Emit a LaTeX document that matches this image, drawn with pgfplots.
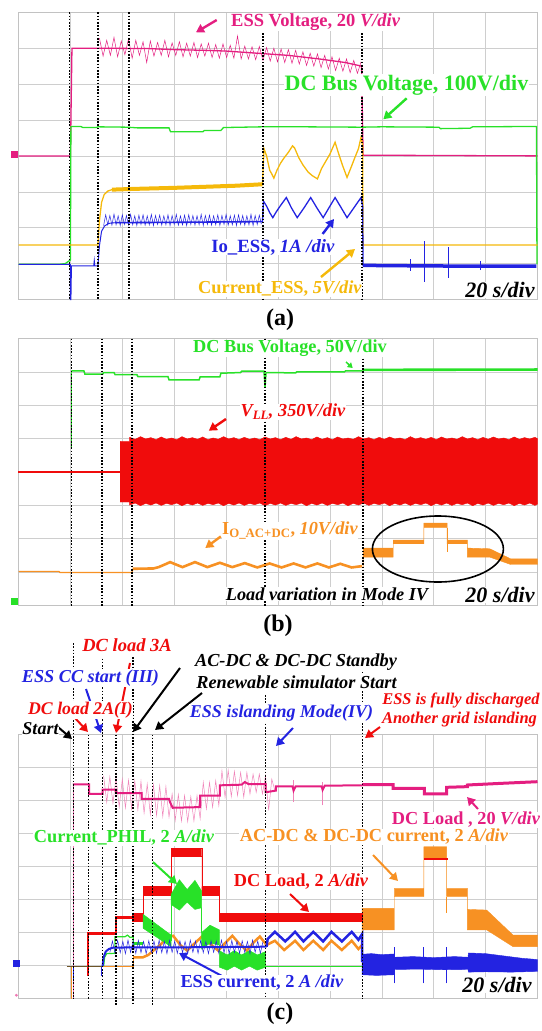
\documentclass[border=0pt]{standalone}
\usepackage{pgfplots}
\pgfplotsset{compat=1.18}
\usetikzlibrary{arrows.meta}
\usepackage{fontspec}
\setmainfont{Liberation Serif}
\definecolor{cmag}{RGB}{228,30,128}
\definecolor{cgreen}{RGB}{40,225,40}
\definecolor{cyel}{RGB}{245,185,10}
\definecolor{cblue}{RGB}{35,35,225}
\definecolor{trred}{RGB}{240,12,12}
\definecolor{corange}{RGB}{247,145,35}
\definecolor{cgrid}{RGB}{206,206,206}
\definecolor{colive}{RGB}{110,85,40}
\pgfplotsset{scopeax/.style={scale only axis, width=519pt, xmin=0, xmax=10, ymin=0, ymax=8,
  xtick={0,1,...,10}, ytick={0,1,...,8}, xticklabels={}, yticklabels={}, major tick length=0pt,
  grid=major, major grid style={cgrid, line width=0.6pt}, axis line style={cgrid!85!gray, line width=0.8pt},
  clip=false, anchor=north west}}
\tikzset{mk/.style={black, line width=1.6pt, dash pattern=on 1.6pt off 1.6pt},
  lbl/.style={font=\fontsize{18.3}{20}\selectfont\bfseries, inner sep=0.5pt, fill=white},
  big/.style={font=\fontsize{22}{24}\selectfont\bfseries\itshape, inner sep=0.5pt, fill=white},
  arr/.style={-{Triangle[length=8pt,width=9pt]}, line width=2.4pt}}
\begin{document}
\begin{tikzpicture}
\useasboundingbox (0pt,0pt) rectangle (541pt,-1031pt);
% ================= (a)
\begin{axis}[scopeax, at={(18.5pt,-12.3pt)}, height=287.2pt]
\addplot[color=cmag, line width=0.5pt] coordinates {(1.56,7.28)(1.63,6.78)(1.70,7.22)(1.77,6.80)(1.84,7.30)(1.91,6.76)(1.98,7.20)(2.05,6.82)(2.12,7.26)(2.19,6.72)(2.26,7.22)(2.33,6.80)(2.40,7.18)(2.47,6.60)(2.54,7.20)(2.61,6.78)(2.68,7.16)(2.75,6.80)(2.82,7.22)(2.89,6.76)(2.96,7.15)(3.03,6.80)(3.10,7.18)(3.17,6.76)(3.24,7.14)(3.31,6.78)(3.38,7.16)(3.45,6.74)(3.52,7.12)(3.59,6.78)(3.66,7.14)(3.73,6.74)(3.80,7.10)(3.87,6.72)(3.94,7.12)(4.01,6.74)(4.08,7.08)(4.15,6.72)(4.22,7.34)(4.29,6.70)(4.36,7.06)(4.43,6.70)(4.50,7.04)(4.57,6.68)(4.64,7.05)(4.71,6.66)(4.78,7.02)(4.85,6.64)(4.92,7.00)(4.99,6.62)(5.06,6.98)(5.13,6.60)(5.20,6.96)(5.27,6.58)(5.34,6.94)(5.41,6.56)(5.48,6.90)(5.55,6.52)(5.62,6.86)(5.69,6.50)(5.76,6.84)(5.83,6.46)(5.90,6.80)(5.97,6.42)(6.04,6.76)(6.11,6.38)(6.18,6.72)(6.25,6.36)(6.32,6.70)(6.39,6.32)(6.46,6.66)(6.53,6.30)(6.60,6.62)};
\addplot[color=cmag, line width=1.3pt] coordinates {(0,4.0)(1.0,4.0)(1.03,7.0)(1.56,7.0)(2.5,6.99)(3.0,6.96)(3.6,6.94)(4.0,6.92)(4.7,6.85)(5.2,6.80)(5.8,6.70)(6.3,6.60)(6.61,6.50)(6.64,4.02)(10,4.0)};
\addplot[color=cgreen, line width=1.3pt] coordinates {(0,0.98)(0.78,0.98)(0.9,1.0)(0.96,1.06)(1.0,1.1)(1.01,4.82)(1.2,4.82)(1.24,4.79)(1.5,4.79)(1.53,4.81)(2.1,4.80)(2.3,4.78)(2.9,4.78)(2.93,4.67)(3.55,4.67)(3.58,4.71)(3.9,4.71)(3.95,4.79)(4.7,4.81)(5.5,4.81)(6.6,4.80)(7.0,4.81)(8.1,4.80)(8.13,4.76)(8.7,4.77)(8.75,4.81)(9.98,4.82)(9.99,0.98)};
\addplot[color=cyel, line width=1.3pt] coordinates {(0,1.52)(1.53,1.52)(1.56,2.2)(1.6,2.7)(1.65,2.92)(1.72,3.02)(1.8,3.06)};
\addplot[color=cyel, line width=4pt] coordinates {(1.8,3.06)(2.2,3.08)(3.0,3.11)(3.6,3.14)(4.2,3.17)(4.7,3.21)};
\addplot[color=cyel, line width=1.3pt] coordinates {(4.70,3.2)(4.73,4.2)(4.78,4.0)(4.84,3.6)(4.88,3.5)(4.92,3.38)(4.98,3.6)(5.05,3.8)(5.12,3.95)(5.2,4.1)(5.28,4.28)(5.32,4.22)(5.4,3.95)(5.48,3.75)(5.58,3.55)(5.66,3.45)(5.76,3.36)(5.84,3.65)(5.92,3.85)(6.0,4.05)(6.1,4.38)(6.16,4.1)(6.24,3.75)(6.33,3.40)(6.4,3.65)(6.48,3.95)(6.55,4.2)(6.60,4.52)(6.63,4.3)(6.64,1.52)(10,1.52)};
\addplot[color=cblue, line width=1pt] coordinates {(0,0.98)(1.0,0.98)(1.0,0.0)(1.01,0.0)(1.02,0.94)(1.45,0.94)(1.46,1.08)(1.47,0.94)(1.53,0.94)(1.56,1.5)(1.6,1.9)(1.66,2.05)(1.74,2.12)(1.85,2.14)};
\addplot[color=cblue, line width=0.5pt] coordinates {(1.64,2.06)(1.68,2.36)(1.72,2.08)(1.76,2.34)(1.80,2.07)(1.84,2.38)(1.88,2.08)(1.92,2.33)(1.96,2.06)(2.00,2.36)(2.04,2.09)(2.08,2.34)(2.12,2.07)(2.16,2.37)(2.20,2.08)(2.24,2.33)(2.28,2.06)(2.32,2.35)(2.36,2.09)(2.40,2.36)(2.44,2.07)(2.48,2.33)(2.52,2.08)(2.56,2.37)(2.60,2.06)(2.64,2.34)(2.68,2.09)(2.72,2.35)(2.76,2.07)(2.80,2.33)(2.84,2.08)(2.88,2.36)(2.92,2.06)(2.96,2.34)(3.00,2.09)(3.04,2.37)(3.08,2.07)(3.12,2.33)(3.16,2.08)(3.20,2.35)(3.24,2.06)(3.28,2.36)(3.32,2.09)(3.36,2.34)(3.40,2.07)(3.44,2.33)(3.48,2.08)(3.52,2.37)(3.56,2.06)(3.60,2.34)(3.64,2.09)(3.68,2.35)(3.72,2.07)(3.76,2.33)(3.80,2.08)(3.84,2.36)(3.88,2.06)(3.92,2.34)(3.96,2.09)(4.00,2.37)(4.04,2.07)(4.08,2.33)(4.12,2.08)(4.16,2.35)(4.20,2.06)(4.24,2.36)(4.28,2.09)(4.32,2.34)(4.36,2.07)(4.40,2.33)(4.44,2.08)(4.48,2.37)(4.52,2.06)(4.56,2.34)(4.60,2.09)(4.64,2.35)(4.68,2.10)};
\addplot[color=cblue, line width=1.6pt] coordinates {(1.85,2.14)(3.0,2.15)(4.7,2.17)};
\addplot[color=cblue, line width=1.3pt] coordinates {(4.70,2.16)(4.72,2.74)(4.78,2.6)(4.84,2.42)(4.90,2.28)(4.97,2.45)(5.05,2.62)(5.16,2.84)(5.26,2.55)(5.37,2.28)(5.5,2.55)(5.63,2.84)(5.75,2.55)(5.87,2.28)(5.98,2.55)(6.10,2.84)(6.22,2.55)(6.33,2.28)(6.46,2.55)(6.60,2.84)(6.63,2.6)(6.64,0.93)};
\addplot[color=cblue, line width=3.5pt] coordinates {(6.64,0.95)(7.5,0.94)(8.5,0.93)(9.98,0.93)};
\addplot[color=cblue, line width=0.6pt] coordinates {(7.82,0.5)(7.82,1.62)};
\addplot[color=cblue, line width=0.6pt] coordinates {(8.29,0.6)(8.29,1.45)};
\addplot[color=cblue, line width=0.6pt] coordinates {(7.55,0.8)(7.55,1.12)};
\addplot[color=cblue, line width=0.6pt] coordinates {(8.9,0.82)(8.9,1.08)};
\addplot[only marks, mark=square*, mark size=3pt, color=cmag] coordinates {(-0.08,4.05)};
\addplot[mk] coordinates {(0.98,8)(0.98,0)};
\addplot[mk] coordinates {(1.53,8)(1.53,0)};
\addplot[mk] coordinates {(2.13,8)(2.13,0)};
\addplot[mk] coordinates {(4.71,7.6)(4.71,0)};
\addplot[mk] coordinates {(6.62,7.6)(6.62,0)};
\end{axis}
% ================= (b)
\begin{axis}[scopeax, at={(18.5pt,-338.5pt)}, height=267pt]
\addplot[color=cgreen, line width=0.5pt] coordinates {(1.02,4.74)(1.02,7.03)};
\addplot[color=cgreen, line width=1.5pt] coordinates {(1.02,7.03)(1.26,7.03)(1.28,6.93)(1.62,6.93)(1.64,6.98)(1.84,6.98)(1.86,6.92)(2.28,6.92)(2.30,6.86)(2.88,6.86)(2.90,6.76)(3.48,6.76)(3.50,6.85)(3.88,6.85)(3.90,6.96)(4.28,6.98)(4.30,7.02)(4.73,7.02)(4.75,6.55)(4.77,6.98)(5.34,6.97)(5.36,7.0)(6.28,7.0)(6.30,7.03)(6.63,7.03)};
\addplot[color=cgreen, line width=2.6pt] coordinates {(6.63,7.06)(10,7.07)};
\addplot[fill=trred, draw=trred, line width=0.4pt] coordinates {(0,3.985)(0,4.035)(1.96,4.035)(1.96,3.985)} -- cycle;
\addplot[fill=trred, draw=trred, line width=0.4pt] coordinates {(1.96,3.10)(1.96,4.92)(2.14,4.92)(2.14,5.04)(2.25,4.98)(2.35,5.06)(2.45,4.99)(2.55,5.03)(2.65,4.97)(2.75,5.05)(2.85,4.98)(2.95,5.02)(3.05,4.97)(3.15,5.06)(3.25,4.99)(3.35,5.03)(3.45,4.98)(3.55,5.05)(3.65,4.97)(3.75,5.02)(3.85,4.98)(3.95,5.06)(4.05,4.99)(4.15,5.03)(4.25,4.97)(4.35,5.04)(4.45,4.98)(4.55,5.02)(4.65,4.97)(4.75,5.05)(4.85,4.99)(4.95,5.03)(5.05,4.97)(5.15,5.04)(5.25,4.98)(5.35,5.06)(5.45,4.99)(5.55,5.02)(5.65,4.97)(5.75,5.05)(5.85,4.98)(5.95,5.03)(6.05,4.97)(6.15,5.05)(6.25,4.99)(6.35,5.02)(6.45,4.98)(6.55,5.06)(6.65,4.99)(6.75,5.03)(6.85,4.97)(6.95,5.04)(7.05,4.98)(7.15,5.05)(7.25,4.99)(7.35,5.02)(7.45,4.97)(7.55,5.06)(7.65,4.99)(7.75,5.03)(7.85,4.98)(7.95,5.04)(8.05,4.97)(8.15,5.05)(8.25,4.99)(8.35,5.02)(8.45,4.98)(8.55,5.06)(8.65,4.99)(8.75,5.03)(8.85,4.97)(8.95,5.04)(9.05,4.98)(9.15,5.05)(9.25,4.99)(9.35,5.02)(9.45,4.97)(9.55,5.05)(9.65,4.98)(9.75,5.03)(9.85,4.99)(9.95,5.04)(10,5.0)(10,3.04)(9.95,3.00)(9.85,3.07)(9.75,3.01)(9.65,3.06)(9.55,2.99)(9.45,3.07)(9.35,3.02)(9.25,3.06)(9.15,3.00)(9.05,3.07)(8.95,3.01)(8.85,3.06)(8.75,2.99)(8.65,3.07)(8.55,3.02)(8.45,3.06)(8.35,3.00)(8.25,3.07)(8.15,3.01)(8.05,3.06)(7.95,2.99)(7.85,3.07)(7.75,3.02)(7.65,3.06)(7.55,3.00)(7.45,3.07)(7.35,3.01)(7.25,3.06)(7.15,2.99)(7.05,3.07)(6.95,3.02)(6.85,3.06)(6.75,3.00)(6.65,3.07)(6.55,3.01)(6.45,3.06)(6.35,2.99)(6.25,3.07)(6.15,3.02)(6.05,3.06)(5.95,3.00)(5.85,3.07)(5.75,3.01)(5.65,3.06)(5.55,2.99)(5.45,3.07)(5.35,3.02)(5.25,3.06)(5.15,3.00)(5.05,3.07)(4.95,3.01)(4.85,3.06)(4.75,2.99)(4.65,3.07)(4.55,3.02)(4.45,3.06)(4.35,3.00)(4.25,3.07)(4.15,3.01)(4.05,3.06)(3.95,2.99)(3.85,3.07)(3.75,3.02)(3.65,3.06)(3.55,3.00)(3.45,3.07)(3.35,3.01)(3.25,3.06)(3.15,2.99)(3.05,3.07)(2.95,3.02)(2.85,3.06)(2.75,3.00)(2.65,3.07)(2.55,3.01)(2.45,3.06)(2.35,2.99)(2.25,3.07)(2.14,3.01)(2.14,3.10)} -- cycle;
\addplot[color=corange, line width=1.3pt] coordinates {(0,1.02)(0.78,1.02)(0.80,0.99)(2.19,0.99)(2.20,1.08)};
\addplot[color=corange, line width=2.6pt] coordinates {(2.20,1.10)(2.6,1.11)(2.7,1.15)(2.85,1.25)(2.92,1.30)(3.16,1.15)(3.40,1.30)(3.64,1.15)(3.88,1.28)(4.12,1.15)(4.36,1.27)(4.60,1.14)(4.84,1.26)(5.07,1.14)(5.30,1.26)(5.53,1.14)(5.76,1.26)(5.98,1.14)(6.20,1.25)(6.42,1.14)(6.62,1.18)};
\addplot[fill=corange, draw=corange, line width=0.4pt] coordinates {(6.64,1.16)(6.64,1.72)(7.22,1.72)(7.22,1.96)(7.81,1.96)(7.81,2.47)(8.26,2.47)(8.26,1.96)(8.65,1.96)(8.65,1.72)(9.08,1.70)(9.48,1.40)(10,1.40)(10,1.23)(9.48,1.23)(9.08,1.45)(8.65,1.45)(8.65,1.85)(8.26,1.85)(8.26,2.33)(7.81,2.33)(7.81,1.85)(7.22,1.85)(7.22,1.45)(6.64,1.45)} -- cycle;
\addplot[color=corange, line width=0.6pt] coordinates {(8.27,2.33)(8.27,1.6)};
\addplot[only marks, mark=square*, mark size=3pt, color=cgreen] coordinates {(-0.08,0.12)};
\addplot[mk] coordinates {(1.02,8)(1.02,0)};
\addplot[mk] coordinates {(1.61,8)(1.61,0)};
\addplot[mk] coordinates {(2.19,8)(2.19,0)};
\addplot[mk] coordinates {(4.75,8)(4.75,0)};
\addplot[mk] coordinates {(6.64,7.4)(6.64,0)};
\end{axis}
% ================= (c)
\begin{axis}[scopeax, at={(18.5pt,-734.5pt)}, height=264pt]
\addplot[color=cmag!60, line width=0.5pt] coordinates {(1.05,6.49)(1.05,0)};
\addplot[color=cmag!55, line width=0.5pt] coordinates {(1.64,6.75)(1.70,5.95)(1.76,6.72)(1.82,5.92)(1.88,6.70)(1.94,5.80)(2.00,6.65)(2.06,5.78)(2.12,6.62)(2.18,5.75)(2.24,6.60)(2.30,5.72)(2.36,6.58)(2.42,5.62)(2.48,6.50)(2.54,5.58)(2.60,6.48)(2.66,5.55)(2.72,6.45)(2.78,5.52)(2.84,6.42)(2.90,5.50)(2.96,6.20)(3.02,5.40)(3.08,6.18)(3.14,5.38)(3.20,6.15)(3.26,5.36)(3.32,6.12)(3.38,5.38)(3.44,6.15)(3.50,5.45)(3.56,6.55)(3.62,5.75)(3.68,6.55)(3.74,5.80)(3.80,6.60)(3.86,5.85)(3.92,6.90)(3.98,6.10)(4.04,6.92)(4.10,6.12)(4.16,6.88)(4.22,6.15)(4.28,6.85)(4.34,6.10)(4.40,6.85)(4.46,6.20)(4.52,6.80)(4.58,6.25)(4.64,6.80)(4.70,6.20)(4.76,6.75)(4.82,5.70)(4.88,6.65)(4.94,6.30)};
\addplot[color=cmag!55, line width=0.5pt] coordinates {(5.30,5.95)(5.30,6.62)};
\addplot[color=cmag!55, line width=0.5pt] coordinates {(5.86,5.85)(5.86,6.55)};
\addplot[color=cmag, line width=2pt] coordinates {(1.05,6.49)(1.36,6.49)(1.36,6.20)(1.62,6.20)(1.62,6.33)(1.88,6.33)(1.88,6.22)(2.37,6.22)(2.37,6.05)(2.90,6.05)(2.92,5.95)(2.97,5.78)(3.50,5.80)(3.50,6.15)(3.88,6.15)(3.88,6.46)(4.30,6.48)(4.36,6.56)(4.43,6.50)(4.76,6.50)(4.76,6.25)(4.96,6.30)(4.96,6.43)(5.28,6.43)(5.30,6.30)(5.34,6.43)(5.84,6.43)(5.86,6.32)(5.90,6.45)(6.62,6.46)};
\addplot[color=cmag, line width=3pt] coordinates {(6.62,6.48)(7.22,6.48)(7.22,6.37)(7.82,6.37)(7.82,6.20)(8.25,6.20)(8.25,6.40)(8.65,6.42)(8.65,6.47)(9.3,6.52)(10,6.57)};
\addplot[color=cblue, line width=0.8pt] coordinates {(0.93,0.98)(1.62,0.98)};
\addplot[color=cblue, line width=0.6pt] coordinates {(1.06,0.98)(1.06,0.6)};
\addplot[color=cblue, line width=0.6pt] coordinates {(1.33,0.98)(1.33,0.68)};
\addplot[color=cblue, line width=0.6pt] coordinates {(1.60,0.98)(1.60,0.68)};
\addplot[color=corange, line width=1pt] coordinates {(1.02,0)(1.02,0.98)};
\addplot[color=corange, line width=1pt] coordinates {(1.62,0.98)(2.21,0.98)(2.21,1.25)};
\addplot[color=corange, line width=2.5pt] coordinates {(2.21,1.25)(2.40,1.25)(2.5,1.32)(2.62,1.48)(2.73,1.62)(2.86,1.85)(2.98,1.90)(3.12,1.62)(3.25,1.45)(3.40,1.68)(3.55,1.90)(3.70,1.65)(3.85,1.45)(3.98,1.68)(4.12,1.90)(4.26,1.65)(4.40,1.45)(4.52,1.68)(4.65,1.88)(4.78,1.62)(4.94,1.75)(5.12,1.47)(5.33,1.75)(5.49,1.47)(5.68,1.75)(5.87,1.47)(6.03,1.75)(6.23,1.47)(6.42,1.75)(6.55,1.50)(6.62,1.62)};
\addplot[fill=corange, draw=corange, line width=0.4pt] coordinates {(6.62,1.62)(6.62,2.73)(7.24,2.73)(7.24,3.34)(7.81,3.34)(7.81,4.60)(8.25,4.60)(8.25,3.34)(8.65,3.34)(8.65,2.70)(9.02,2.68)(9.53,1.92)(10,1.92)(10,1.57)(9.53,1.57)(9.02,2.08)(8.65,2.08)(8.65,3.09)(8.25,3.09)(8.25,4.25)(7.81,4.25)(7.81,3.09)(7.24,3.09)(7.24,2.08)(6.62,2.08)} -- cycle;
\addplot[color=corange, line width=0.6pt] coordinates {(8.25,3.09)(8.25,2.6)};
\addplot[fill=trred, draw=trred, line width=0.3pt] coordinates {(1.32,0.7)(1.32,2.0)(1.86,2.0)(1.86,2.46)(1.875,2.46)(1.875,1.945)(1.345,1.945)(1.345,0.7)} -- cycle;
\addplot[fill=trred, draw=trred, line width=0.4pt] coordinates {(1.86,2.42)(1.86,2.50)(2.2,2.50)(2.2,2.57)(2.40,2.57)(2.40,3.39)(2.94,3.39)(2.94,4.56)(3.53,4.56)(3.53,3.39)(3.87,3.39)(3.87,2.58)(6.62,2.58)(6.62,2.33)(3.87,2.33)(3.87,3.14)(3.53,3.14)(3.53,4.32)(2.94,4.32)(2.94,3.14)(2.40,3.14)(2.40,2.34)(2.2,2.34)(2.2,2.42)} -- cycle;
\addplot[fill=trred, draw=trred, line width=0.3pt] coordinates {(7.81,4.21)(7.81,4.26)(8.25,4.26)(8.25,4.21)} -- cycle;
\addplot[color=cgreen, line width=1.2pt] coordinates {(1.64,0.98)(1.66,1.25)(1.70,1.36)(1.86,1.37)(1.86,1.87)(2.05,1.87)(2.10,1.92)(2.15,1.85)(2.21,1.87)(2.21,1.67)};
\addplot[color=cgreen, line width=3pt] coordinates {(2.21,1.67)(2.40,1.67)};
\addplot[fill=cgreen, draw=cgreen, line width=0.5pt] coordinates {(2.40,2.13)(2.40,2.55)(2.94,1.92)(2.94,1.57)} -- cycle;
\addplot[color=cgreen, line width=0.6pt] coordinates {(2.94,1.75)(2.94,2.9)};
\addplot[fill=cgreen, draw=cgreen, line width=0.5pt] coordinates {(2.94,2.85)(2.94,3.15)(3.10,3.60)(3.25,3.30)(3.40,3.58)(3.53,3.25)(3.53,2.75)(3.40,2.70)(3.25,2.92)(3.10,2.68)} -- cycle;
\addplot[color=cgreen, line width=0.6pt] coordinates {(3.53,2.75)(3.53,2.0)};
\addplot[fill=cgreen, draw=cgreen, line width=0.5pt] coordinates {(3.53,1.50)(3.53,2.00)(3.69,2.22)(3.87,2.08)(3.87,1.62)(3.69,1.68)} -- cycle;
\addplot[color=cgreen, line width=0.6pt] coordinates {(3.87,1.62)(3.87,1.42)};
\addplot[fill=cgreen, draw=cgreen, line width=0.5pt] coordinates {(3.87,1.45)(4.02,1.32)(4.16,1.45)(4.30,1.32)(4.45,1.45)(4.60,1.32)(4.76,1.42)(4.76,0.95)(4.60,0.86)(4.45,0.98)(4.30,0.86)(4.16,0.98)(4.02,0.86)(3.87,0.95)} -- cycle;
\addplot[color=cgreen, line width=1.2pt] coordinates {(4.76,0.98)(6.62,0.98)};
\addplot[color=cblue, line width=0.5pt] coordinates {(1.76,1.40)(1.81,1.74)(1.86,1.37)(1.91,1.76)(1.96,1.39)(2.01,1.73)(2.06,1.36)(2.11,1.77)(2.16,1.40)(2.21,1.74)(2.26,1.37)(2.31,1.76)(2.36,1.39)(2.41,1.73)(2.46,1.36)(2.51,1.75)(2.56,1.40)(2.61,1.74)(2.66,1.37)(2.71,1.77)(2.76,1.39)(2.81,1.73)(2.86,1.36)(2.91,1.76)(2.96,1.40)(3.01,1.74)(3.06,1.37)(3.11,1.75)(3.16,1.39)(3.21,1.73)(3.26,1.36)(3.31,1.77)(3.36,1.40)(3.41,1.74)(3.46,1.37)(3.51,1.76)(3.56,1.39)(3.61,1.73)(3.66,1.36)(3.71,1.75)(3.76,1.40)(3.81,1.74)(3.86,1.37)(3.91,1.77)(3.96,1.39)(4.01,1.73)(4.06,1.36)(4.11,1.76)(4.16,1.40)(4.21,1.74)(4.26,1.37)(4.31,1.75)(4.36,1.39)(4.41,1.73)(4.46,1.36)(4.51,1.77)(4.56,1.40)(4.61,1.74)(4.66,1.37)(4.71,1.72)};
\addplot[color=cblue, line width=2pt] coordinates {(1.62,0.98)(1.64,1.25)(1.68,1.42)(1.74,1.50)(1.82,1.54)(2.2,1.55)(3.0,1.55)(4.0,1.56)(4.78,1.57)};
\addplot[color=cblue, line width=2.5pt] coordinates {(4.78,1.57)(4.80,1.8)(4.94,2.02)(5.14,1.73)(5.33,2.02)(5.49,1.73)(5.68,2.02)(5.87,1.73)(6.03,2.02)(6.23,1.73)(6.42,2.02)(6.55,1.78)(6.62,1.95)(6.62,1.1)};
\addplot[fill=cblue, draw=cblue, line width=0.4pt] coordinates {(6.62,1.10)(6.62,1.34)(6.8,1.36)(7.0,1.33)(7.24,1.35)(7.25,1.25)(7.6,1.27)(8.0,1.24)(8.4,1.27)(8.66,1.25)(8.67,1.38)(9.0,1.36)(9.4,1.28)(9.7,1.22)(10,1.18)(10,0.82)(9.5,0.80)(9.0,0.81)(8.67,0.80)(8.66,0.88)(8.2,0.87)(7.7,0.89)(7.25,0.88)(7.24,0.72)(6.9,0.70)(6.62,0.72)} -- cycle;
\addplot[color=cblue, line width=0.6pt] coordinates {(7.25,0.46)(7.25,1.57)};
\addplot[color=cblue, line width=0.6pt] coordinates {(7.80,0.46)(7.80,1.57)};
\addplot[color=cblue, line width=0.6pt] coordinates {(8.25,0.46)(8.25,1.57)};
\addplot[color=colive, line width=1.3pt] coordinates {(0.93,0.98)(1.62,0.98)};
\addplot[only marks, mark=square*, mark size=3pt, color=cblue] coordinates {(-0.04,1.07)};
\addplot[only marks, mark=*, mark size=1.2pt, color=cmag!60] coordinates {(-0.04,0.1)};
\addplot[mk] coordinates {(1.06,10.77)(1.06,0)};
\addplot[mk] coordinates {(1.345,8)(1.345,0)};
\addplot[mk] coordinates {(1.615,10.3)(1.615,0)};
\addplot[mk] coordinates {(1.88,8)(1.88,-0.2)};
\addplot[mk] coordinates {(2.21,10.35)(2.21,-0.2)};
\addplot[mk] coordinates {(2.58,8)(2.58,-0.2)};
\addplot[mk] coordinates {(4.76,9.2)(4.76,0)};
\addplot[mk] coordinates {(6.63,9.9)(6.63,0)};
\end{axis}
\begin{scope}[x=1pt,y=1pt]
\draw[arr, cmag] (216.7,-20) -- (196,-32.3);
\draw[arr, cgreen] (406.7,-98.3) -- (383.3,-119.3);
\draw[arr, cblue] (322.6,-234) -- (334,-219);
\draw[arr, cyel] (321,-277) -- (355,-249);
\draw[cgreen, line width=1.5pt, -{Triangle[length=5pt,width=6pt]}] (346,-362) -- (352.7,-368);
\draw[arr, trred] (226,-419) -- (208.8,-430.7);
\draw[arr, corange] (220.8,-536.4) -- (205.3,-548);
\draw[black, line width=1.6pt] (437.9,-549) ellipse [x radius=65.5, y radius=33];
\draw[arr, black, line width=2pt] (58,-727) -- (72,-739);
\draw[arr, trred, line width=2pt] (75,-718) -- (88,-732);
\draw[arr, cblue, line width=2pt] (86,-689) -- (101,-733);
\draw[arr, trred, line width=2pt] (130,-663) -- (116,-733);
\draw[arr, black, line width=2pt] (180,-668) -- (133,-732);
\draw[arr, black, line width=2pt] (202,-693) -- (155,-730);
\draw[arr, cblue, line width=2pt] (293,-728) -- (276,-746);
\draw[arr, trred, line width=2pt] (380,-727) -- (365,-738);
\draw[arr, cmag, line width=2pt] (478,-809) -- (467,-797);
\draw[arr, cgreen, line width=2pt] (153,-862) -- (177,-884);
\draw[arr, trred, line width=2pt] (290,-894) -- (309,-912);
\draw[arr, corange, line width=2pt] (373,-855) -- (398,-881);
\draw[arr, cblue, line width=2pt] (222,-976) -- (179,-953);
\node[lbl, text=cmag, font=\fontsize{18.5}{20}\selectfont\bfseries] at (315.7,-22) {ESS Voltage, 20 \textit{V/div}};
\node[lbl, text=cgreen, font=\fontsize{22}{24}\selectfont\bfseries] at (406.5,-85) {DC Bus Voltage, 100V/div};
\node[lbl, text=cblue, font=\fontsize{18.7}{20}\selectfont\bfseries] at (273,-247) {Io\_ESS, \textit{1A /div}};
\node[lbl, text=cyel] at (280,-289) {Current\_ESS, \textit{5V/div}};
\node[big] at (500,-290) {20 s/div};
\node[font=\fontsize{24}{26}\selectfont\bfseries] at (280,-320) {(a)};
\node[lbl, text=cgreen] at (290,-348.5) {DC Bus Voltage, 50V/div};
\node[lbl, text=trred] at (293,-412) {\textit{V\textsubscript{LL}, 350V/div}};
\node[lbl, text=corange] at (290,-530.6) {I\textsubscript{O\_AC+DC}, \textit{10V/div}};
\node[lbl, font=\fontsize{18.3}{20}\selectfont\bfseries\itshape] at (327,-594.4) {Load variation in Mode IV};
\node[big] at (500,-595) {20 s/div};
\node[font=\fontsize{24}{26}\selectfont\bfseries] at (278,-626) {(b)};
\node[lbl, text=trred, font=\fontsize{18.5}{20}\selectfont\bfseries\itshape] at (127,-645) {DC load 3A};
\node[lbl, text=cblue, font=\fontsize{18.2}{20}\selectfont\bfseries\itshape] at (90.5,-678) {ESS CC start (III)};
\node[lbl, text=trred, font=\fontsize{17.8}{20}\selectfont\bfseries\itshape] at (80.5,-710) {DC load 2A(I)};
\node[lbl, font=\fontsize{18}{20}\selectfont\bfseries\itshape] at (40.5,-729) {Start};
\node[lbl, font=\fontsize{18.3}{20}\selectfont\bfseries\itshape] at (296,-662) {AC-DC \& DC-DC Standby};
\node[lbl, font=\fontsize{18.3}{20}\selectfont\bfseries\itshape] at (296.5,-682) {Renewable simulator Start};
\node[lbl, text=cblue, font=\fontsize{18}{20}\selectfont\bfseries\itshape] at (281.5,-713) {ESS islanding Mode(IV)};
\node[lbl, text=trred, font=\fontsize{16.4}{18}\selectfont\bfseries\itshape] at (461,-700) {ESS is fully discharged};
\node[lbl, text=trred, font=\fontsize{16.5}{18}\selectfont\bfseries\itshape] at (459.5,-720) {Another grid islanding};
\node[lbl, text=cmag] at (466,-820) {DC Load , 20 \textit{V/div}};
\node[lbl, text=cgreen] at (124,-838) {Current\_PHIL, 2 \textit{A/div}};
\node[lbl, text=corange] at (374,-837) {AC-DC \& DC-DC current, 2 \textit{A/div}};
\node[lbl, text=trred] at (301,-882) {DC Load, 2 \textit{A/div}};
\node[lbl, text=cblue] at (262,-983) {ESS current, 2 \textit{A /div}};
\node[big] at (497,-985) {20 s/div};
\node[font=\fontsize{24}{26}\selectfont\bfseries] at (280,-1014) {(c)};
\end{scope}
\end{tikzpicture}
\end{document}
